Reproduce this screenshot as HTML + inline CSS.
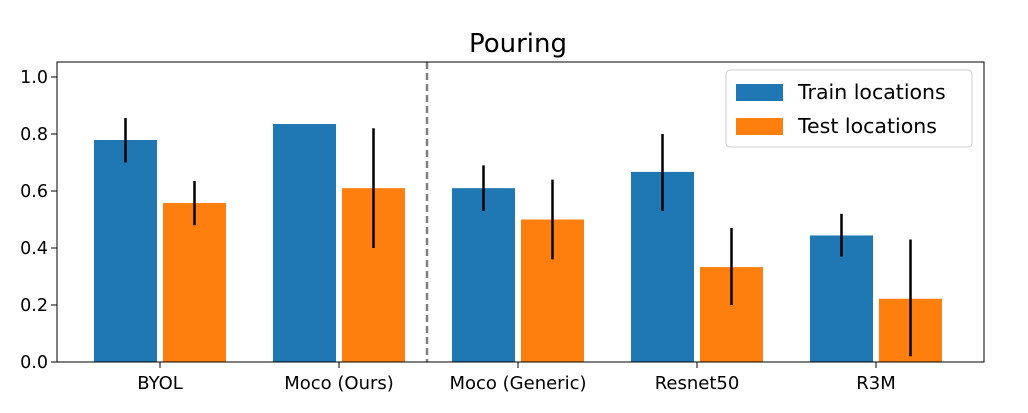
<!DOCTYPE html>
<html><head><meta charset="utf-8"><style>
body{margin:0;background:#fff;}
svg text{font-family:"DejaVu Sans","Liberation Sans",sans-serif;fill:#000;}
</style></head><body>
<svg id="chart" width="1028" height="408" xmlns="http://www.w3.org/2000/svg">
<text x="518" y="52" font-size="26" text-anchor="middle">Pouring</text>
<g id="plot"></g>
</svg>
<script>
const categories=["BYOL","Moco (Ours)","Moco (Generic)","Resnet50","R3M"];
const trainVals=[0.779,0.835,0.61,0.667,0.444];
const trainLo=[0.70,null,0.53,0.53,0.37];
const trainHi=[0.856,null,0.69,0.80,0.52];
const testVals=[0.558,0.61,0.50,0.333,0.222];
const testLo=[0.48,0.40,0.36,0.20,0.02];
const testHi=[0.635,0.82,0.64,0.47,0.43];
const yTicks=[0,0.2,0.4,0.6,0.8,1.0];
const yTickLabels=["0.0","0.2","0.4","0.6","0.8","1.0"];

const L=57,R=984,T=62,B=362;
const y=v=>B-v*285;
const xc=i=>160+i*179;
const NS="http://www.w3.org/2000/svg";
const g=document.getElementById('plot');
function mk(t,a){const e=document.createElementNS(NS,t);for(const k in a)e.setAttribute(k,a[k]);g.appendChild(e);return e;}
const bw=63;
categories.forEach((c,i)=>{
  const b1=mk('rect',{x:xc(i)-bw-3,y:y(trainVals[i]),width:bw,height:B-y(trainVals[i]),fill:'#1f77b4'});
  
  
  const b2=mk('rect',{x:xc(i)+3,y:y(testVals[i]),width:bw,height:B-y(testVals[i]),fill:'#ff7f0e'});
  
  
  if(trainLo[i]!==null){
    const e1=mk('line',{x1:xc(i)-3-bw/2,x2:xc(i)-3-bw/2,y1:y(trainLo[i]),y2:y(trainHi[i]),stroke:'#000','stroke-width':2.5});
    
    
  }
  const e2=mk('line',{x1:xc(i)+3+bw/2,x2:xc(i)+3+bw/2,y1:y(testLo[i]),y2:y(testHi[i]),stroke:'#000','stroke-width':2.5});
  
  
  mk('line',{x1:xc(i),x2:xc(i),y1:B,y2:B+6,stroke:'#000','stroke-width':1});
  const t=mk('text',{x:xc(i),y:B+27,'font-size':18,'text-anchor':'middle'});
  t.textContent=c;
  
  
});
yTicks.forEach((v,i)=>{
  mk('line',{x1:L-6,x2:L,y1:y(v),y2:y(v),stroke:'#000','stroke-width':1});
  const t=mk('text',{x:L-9,y:y(v)+6,'font-size':17.5,'text-anchor':'end'});
  t.textContent=yTickLabels[i];
  
  
});
const dl=mk('line',{x1:427,x2:427,y1:T,y2:B,stroke:'#808080','stroke-width':2.5,'stroke-dasharray':'7,4'});


const fr=mk('rect',{x:L,y:T,width:R-L,height:B-T,fill:'none',stroke:'#000','stroke-width':1});


const lg=mk('rect',{x:726,y:70,width:246,height:77,rx:4,fill:'#fff',stroke:'#ccc','stroke-width':1});


mk('rect',{x:736,y:84,width:47,height:17,fill:'#1f77b4'});
mk('rect',{x:736,y:118,width:47,height:17,fill:'#ff7f0e'});
const l1=mk('text',{x:798,y:99,'font-size':20.5});l1.textContent='Train locations';


const l2=mk('text',{x:798,y:133,'font-size':20.5});l2.textContent='Test locations';


</script>
</body></html>
